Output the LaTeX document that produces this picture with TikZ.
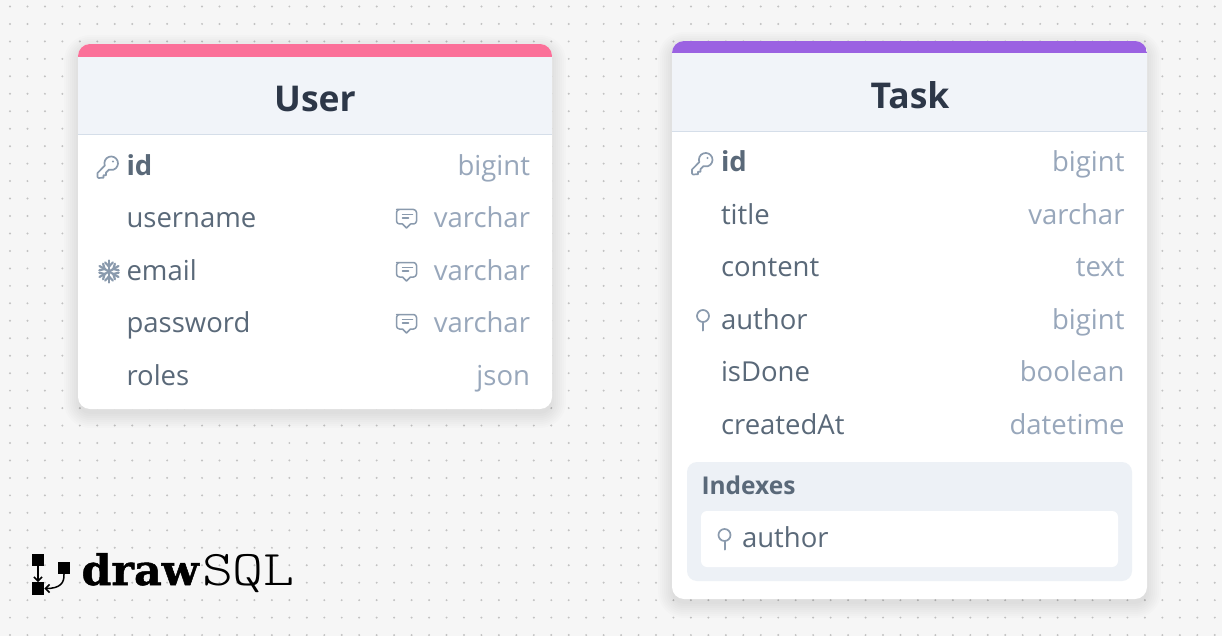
\documentclass[tikz,border=0pt]{standalone}
\usetikzlibrary{arrows.meta}
\usepackage{fontspec}
\setmainfont{Open Sans}
\newfontfamily\logoA[FakeBold=1.2,FakeStretch=1.02]{DejaVu Serif}
\newfontfamily\logoB[FakeStretch=1.18]{Latin Modern Mono Light}
\definecolor{bgc}{HTML}{F6F6F6}
\definecolor{dotc}{HTML}{C2C2C2}
\definecolor{headc}{HTML}{F1F4F9}
\definecolor{linec}{HTML}{D5DEE9}
\definecolor{namec}{HTML}{5A6979}
\definecolor{typec}{HTML}{98A7BB}
\definecolor{titlec}{HTML}{2D3748}
\definecolor{iconc}{HTML}{8A9AAD}
\definecolor{pinkc}{HTML}{FB7099}
\definecolor{purplec}{HTML}{9B62E2}
\definecolor{idxc}{HTML}{EDF1F6}
\tikzset{
  txt/.style={inner sep=0pt,outer sep=0pt},
  fname/.style={txt,anchor=base west,text=namec,font=\fontsize{27.5}{30}\selectfont},
  fbold/.style={fname,font=\fontsize{27.5}{30}\selectfont\bfseries},
  ftype/.style={txt,anchor=base east,text=typec,font=\fontsize{27.5}{30}\selectfont},
  ftitle/.style={txt,anchor=base,text=titlec,font=\fontsize{35.5}{40}\selectfont\bfseries},
  icon/.style={draw=iconc,line width=1.7pt,line cap=round,line join=round},
  keyicon/.pic={
    \draw[icon,fill=white] (-9.5,11.5) -- (-10.5,10.5) -- (-10.5,6.5) -- (-3.2,-0.9)
      arc[start angle=160,end angle=470,radius=6.8]
      -- (-2,6.2) -- (-2,8.7) -- (-4.5,8.7) -- (-4.5,11.2) -- cycle;
    \fill[iconc] (5,-5) circle (1.2);
  },
  flakeicon/.pic={
    \foreach \a in {90,150,210,270,330,30}{
      \draw[icon,line width=2.2pt,rotate=\a] (0,0) -- (11,0);
      \draw[icon,line width=2.2pt,rotate=\a] (9,-3.8) -- (5,0) -- (9,3.8);
    }
  },
  pinicon/.pic={
    \draw[icon] (0,-4) circle (6);
    \draw[icon,line width=2pt] (0,2) -- (0,10.5);
  },
  noteicon/.pic={
    \draw[icon,line width=1.5pt] (-10,-8.5) [rounded corners=3] -- (10,-8.5) -- (10,6) [sharp corners] -- (4,6) -- (0,10) -- (-4,6) [rounded corners=3] -- (-10,6) -- (-10,-8.5) -- (0,-8.5);
    \draw[icon,line width=1.5pt] (-4,-3.5) -- (6,-3.5) (-4,0) -- (2,0);
  }
}
\newcommand{\softshadow}[4]{%
  \foreach \s in {14,12,10,8,6,4,2,0}{
    \fill[black,fill opacity=0.010,rounded corners=12+\s]
      (#1-\s,#2+5-\s) rectangle (#3+\s,#4+5+\s);
  }
}
\begin{document}
\begin{tikzpicture}[x=1pt,y=-1pt]
\useasboundingbox (0,0) rectangle (1222,636);
\fill[bgc] (0,0) rectangle (1222,636);
\foreach \i in {0,...,69}{
  \foreach \j in {0,...,36}{
    \fill[dotc] ({10+17.46*\i},{6.5+17.46*\j}) circle (1.1);
  }
}
% ---------- User table
\softshadow{78}{44}{552}{409}
\fill[white,rounded corners=12] (78,44) rectangle (552,409);
\begin{scope}
  \clip[rounded corners=12] (78,44) rectangle (552,409);
  \fill[headc] (78,57) rectangle (552,134);
  \fill[pinkc] (78,44) rectangle (552,57);
  \fill[linec] (78,134) rectangle (552,135.5);
\end{scope}
\node[ftitle] (userTitle) at (315,112) {User};
\node[fbold] (u1) at (126.5,175.5) {id};
\node[ftype] (u1t) at (530,175.5) {bigint};
\node[fname] (u2) at (126.5,227.5) {username};
\node[ftype] (u2t) at (530,227.5) {varchar};
\node[fname] (u3) at (126.5,280) {email};
\node[ftype] (u3t) at (530,280) {varchar};
\node[fname] (u4) at (126.5,332.5) {password};
\node[ftype] (u4t) at (530,332.5) {varchar};
\node[fname] (u5) at (126.5,385) {roles};
\node[ftype] (u5t) at (530,385) {json};
\pic at (108,166.5) {keyicon};
\pic at (109,271.5) {flakeicon};
\pic at (406.5,218) {noteicon};
\pic at (406.5,271) {noteicon};
\pic at (406.5,323) {noteicon};
% ---------- Task table
\softshadow{672}{41}{1147}{599}
\fill[white,rounded corners=12] (672,41) rectangle (1147,599);
\begin{scope}
  \clip[rounded corners=12] (672,41) rectangle (1147,599);
  \fill[headc] (672,53.5) rectangle (1147,131);
  \fill[purplec] (672,41) rectangle (1147,53.5);
  \fill[linec] (672,131) rectangle (1147,132.5);
\end{scope}
\node[ftitle] (taskTitle) at (910,108.5) {Task};
\node[fbold] (t1) at (721,171.5) {id};
\node[ftype] (t1t) at (1124.5,171.5) {bigint};
\node[fname] (t2) at (721,224.5) {title};
\node[ftype] (t2t) at (1124.5,224.5) {varchar};
\node[fname] (t3) at (721,276.5) {content};
\node[ftype] (t3t) at (1124.5,276.5) {text};
\node[fname] (t4) at (721,329) {author};
\node[ftype] (t4t) at (1124.5,329) {bigint};
\node[fname] (t5) at (721,381.5) {isDone};
\node[ftype] (t5t) at (1124.5,381.5) {boolean};
\node[fname] (t6) at (721,434) {createdAt};
\node[ftype] (t6t) at (1124.5,434) {datetime};
\pic at (702.5,163) {keyicon};
\pic at (703,320) {pinicon};
\fill[idxc,rounded corners=10] (687,462) rectangle (1132,581);
\fill[white,rounded corners=6] (701,511) rectangle (1118,567);
\node[txt,anchor=base west,text=namec,font=\fontsize{24.5}{28}\selectfont\bfseries] (idx) at (701.5,494) {Indexes};
\node[fname] (idxa) at (742,547) {author};
\pic at (724.5,539) {pinicon};
% ---------- Logo
\node[fill=black,minimum size=12pt,inner sep=0pt] (s1) at (38,559.5) {};
\node[fill=black,minimum size=12.5pt,inner sep=0pt] (s2) at (38,588.5) {};
\node[fill=black,minimum size=12pt,inner sep=0pt] (s3) at (64,568) {};
\draw[line width=1.5pt,-{Straight Barb[length=4pt,width=8pt]}] (s1) -- (s2);
\draw[line width=1.5pt,-{Straight Barb[length=4pt,width=8pt]}] (s3.south) .. controls (64.5,583) and (60,588.5) .. (s2.east);
\node[txt,anchor=base west,font=\logoA\bfseries\fontsize{42}{44}\selectfont] (logoDraw) at (81.5,585) {draw};
\node[txt,anchor=base west,font=\logoB\fontsize{50}{54}\selectfont] (logoSql) at (202,585) {SQL};
\end{tikzpicture}
\end{document}
